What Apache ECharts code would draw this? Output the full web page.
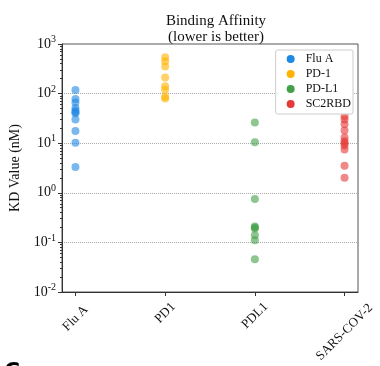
<!DOCTYPE html>
<html><head><meta charset="utf-8">
<script src="https://cdn.jsdelivr.net/npm/echarts@6/dist/echarts.min.js"></script>
<style>html,body{margin:0;padding:0;background:#fff}#c{width:380px;height:366px}</style>
</head><body><div id="c"></div>
<script>
const categories = ['Flu A', 'PD1', 'PDL1', 'SARS-COV-2'];
const seriesNames = ['Flu A', 'PD-1', 'PD-L1', 'SC2RBD'];
const fluA = [118, 78, 66, 51, 45, 42, 40, 30, 17.6, 10.2, 3.3];
const pd1 = [540, 450, 350, 210, 140, 120, 86, 80];
const pdl1 = [26, 10.5, 0.75, 0.21, 0.2, 0.19, 0.14, 0.11, 0.046];
const sc2rbd = [35, 30, 24, 18, 13, 11, 10, 9, 7.5, 3.5, 2.0];
const yTicks = [0.01, 0.1, 1, 10, 100, 1000];
const colors = ['#1e88e5', '#ffb300', '#43a047', '#e53935'];

const groups = [fluA, pd1, pdl1, sc2rbd];
const minorTicks = [];
for (let e = -2; e < 3; e++) for (let m = 2; m <= 9; m++) minorTicks.push(m * Math.pow(10, e));

const font = 'Liberation Serif';
const labelFont = 13;
// emulate centred rotated labels: push each label down so its rotated box top sits just below the tick
const approxWidth = s => s.length * labelFont * 0.6;
const rich = {};
categories.forEach((c, i) => {
  const H = (approxWidth(c) + labelFont) / Math.SQRT2;
  const d = Math.max(0, (300 + H / 2) - (292 + 21));
  const p = d * Math.SQRT2;
  rich['l' + i] = {fontFamily: font, fontSize: labelFont, color: '#111', padding: [p, p, 0, 0]};
});

const chart = echarts.init(document.getElementById('c'));
chart.setOption({
  animation: false,
  textStyle: {fontFamily: font},
  title: {
    text: 'Binding Affinity\n(lower is better)',
    left: 211, top: 8, textAlign: 'center',
    textStyle: {fontFamily: font, fontSize: 15, fontWeight: 'normal', color: '#111', lineHeight: 16}
  },
  grid: {left: 62, top: 44, width: 296, height: 248, show: true, borderColor: '#555', borderWidth: 1},
  legend: {
    orient: 'vertical', right: 27, top: 50,
    data: seriesNames.map((n, i) => ({name: n, itemStyle: {color: colors[i], opacity: 1}})),
    icon: 'circle', itemWidth: 8, itemHeight: 8, itemGap: 3,
    borderColor: '#ccc', borderWidth: 1, borderRadius: 2, padding: [3, 2, 4, 11],
    backgroundColor: '#fff',
    textStyle: {fontFamily: font, fontSize: 12, color: '#111', padding: [0, 0, 0, 6]}
  },
  xAxis: {
    type: 'value', min: -0.15, max: 3.15,
    axisLine: {onZero: false, lineStyle: {color: '#333'}},
    splitLine: {show: false},
    axisTick: {customValues: [0, 1, 2, 3], length: 4, lineStyle: {color: '#333'}},
    axisLabel: {
      customValues: [0, 1, 2, 3], rotate: 45, margin: 21,
      align: 'center', verticalAlign: 'middle',
      formatter: v => { const i = Math.round(v); return '{l' + i + '|' + categories[i] + '}'; },
      rich: rich
    }
  },
  yAxis: [{
    type: 'log', logBase: 10, min: 0.01, max: 1000,
    name: 'KD Value (nM)', nameLocation: 'middle', nameGap: 33, nameRotate: 90,
    nameTextStyle: {fontFamily: font, fontSize: 14, color: '#111'},
    axisLine: {show: true, onZero: false, lineStyle: {color: '#333'}},
    axisTick: {show: true, length: 4, lineStyle: {color: '#333'}},
    splitLine: {show: true, lineStyle: {color: '#aaa', type: 'dotted', width: 1}},
    axisLabel: {
      margin: 6, color: '#111',
      formatter: v => '{b|10}{s|' + Math.round(Math.log10(v)) + '}',
      rich: {
        b: {fontFamily: font, fontSize: 14, color: '#111'},
        s: {fontFamily: font, fontSize: 10, color: '#111', padding: [0, 0, 9, 0]}
      }
    }
  }, {
    type: 'log', logBase: 10, min: 0.01, max: 1000, position: 'left',
    axisLine: {show: false, onZero: false}, splitLine: {show: false},
    axisLabel: {show: false},
    axisTick: {show: true, customValues: minorTicks, length: 2, lineStyle: {color: '#333'}}
  }],
  series: groups.map((g, i) => ({
    type: 'scatter', name: seriesNames[i], symbolSize: 8,
    itemStyle: {color: colors[i], opacity: 0.6},
    data: g.map(v => [i, v])
  })),
  graphic: [{
    type: 'text', left: 4, top: 361,
    style: {text: 'C', font: 'bold 22px "DejaVu Sans"', fill: '#000'}
  }]
});
</script></body></html>
